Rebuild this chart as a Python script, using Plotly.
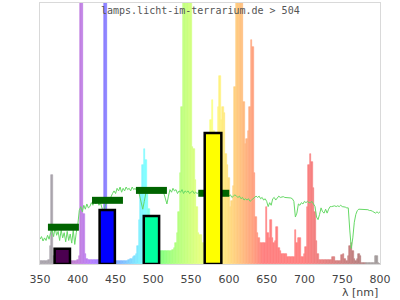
import plotly.graph_objects as go

# ---------------- data ----------------
WAVELENGTHS = list(range(350, 801, 2))

# lamp spectrum (% of plot height, >100 = clipped)
LAMP = [
    1, 1, 1, 1, 1, 1, 1.5, 7, 34, 3,                 # 350-368
    1, 1, 1, 1, 1, 1, 1, 1, 1, 1,                    # 370-388
    1, 1, 1, 1, 1, 1.5, 3, 110, 110, 19,             # 390-408
    4, 2, 1.5, 1.5, 1.5, 1.5, 1.5, 1.5, 1.5, 1.5,    # 410-428
    1.5, 1.5, 3, 110, 110, 5, 2, 1.5, 1, 1,          # 430-448
    1, 1, 1, 1, 1, 1, 1, 1, 1, 1.5,                  # 450-468
    2, 2, 2.5, 3, 4, 7, 17, 28, 38, 44,              # 470-488
    40, 28, 21, 15, 9, 6, 5, 5, 5, 5,                # 490-508
    5, 5, 5, 5, 5, 5, 5, 5, 5.5, 6,                  # 510-528
    8, 12, 20, 35, 60, 110, 110, 110, 110, 110,      # 530-548
    110, 45, 44, 32, 22, 12, 11, 11, 8, 5,           # 550-568
    20, 25, 35, 55, 63, 51, 30, 40, 60, 72,          # 570-588
    55, 60, 58, 42, 38, 33, 22, 24, 30, 68,          # 590-608
    110, 110, 110, 110, 110, 62, 46, 48, 51, 60,     # 610-628
    86, 83, 35, 18, 12, 10, 8, 8, 8, 8,              # 630-648
    22, 12, 10, 17, 10, 8, 9, 14, 6, 5,              # 650-668
    4, 4, 4, 4, 2.5, 2.5, 2.5, 2.5, 2.5, 13,         # 670-688
    8, 10, 10, 2.7, 2.7, 4, 6.5, 22, 38, 42,         # 690-708
    39, 29, 20, 9, 4, 1.5, 1.5, 1.5, 1.5, 1.5,       # 710-728
    1.5, 1.5, 1.5, 1.5, 2.8, 2.5, 1.2, 1.2, 1.2, 1.2,  # 730-748
    3.5, 4, 2, 1, 3, 7, 8, 5, 2, 1,                  # 750-768
    2, 4, 3, 0.5, 0.5, 0.5, 0.5, 0.5, 0.5, 0.5,      # 770-788
    0.5, 0.5, 3, 3, 0.5, 0,                          # 790-800
]

# reference (daylight) curve
SUN = [
    9.5, 10.5, 8.8, 10, 9, 11, 9.5, 12, 13, 10.5,
    14, 11, 12.5, 9, 13, 10, 12, 8.5, 12.5, 9,
    11.5, 8, 13, 7.5, 12, 15, 20.5, 22, 20, 22.5,
    21, 23, 21.5, 22, 23.5, 22.5, 24, 23, 24.5, 22.5,
    23.5, 21, 19.5, 22, 24, 25, 24.5, 26, 27, 28,
    27, 29, 28, 29.5, 27.5, 29, 28, 29.5, 28.5, 29,
    28, 29.5, 28.5, 29, 28, 28.5, 26, 23, 21, 24,
    27, 28, 29, 28, 29, 28.5, 29, 27.5, 28.5, 29,
    28, 29.5, 27, 25, 23, 26, 28.5, 27.5, 29, 28,
    28.5, 27, 28, 27.5, 28.5, 27, 28, 27.5, 28, 27,
    27.5, 28, 27, 27.5, 27, 27.5, 27, 26.5, 27, 26.5,
    26.5, 27, 26.5, 26.5, 27, 26.5, 26.5, 27, 26.5, 26.5,
    26.5, 27, 26, 27, 26.5, 26, 26.5, 25.5, 26, 26.5,
    26, 25.5, 26, 25, 25.5, 24.5, 25, 24.5, 25, 24,
    24.5, 25, 25.5, 26, 25.5, 26, 25, 25.5, 24.5, 25,
    24, 22, 23.5, 22.5, 25, 25.5, 24.5, 25.5, 26, 25.5,
    25.8, 25.8, 25.5, 25.5, 25.5, 25.3, 25.3, 25, 24, 18,
    19.5, 23, 22.5, 23.5, 23, 24, 23.5, 24, 23.5, 23.5,
    24, 23, 22, 18, 17, 19, 21.5, 20, 19.5, 21,
    19.5, 21, 22, 22, 22.3, 22.3, 22, 22.3, 22, 22.5,
    22, 22, 21.8, 21.5, 21.5, 13, 6, 10, 16, 19,
    20.5, 21, 21, 21, 21, 21, 20.8, 20.8, 20.5, 20.5,
    20.2, 19.8, 19.5, 20, 19.5, 20,
]

BAND_CENTERS = [379.5, 439, 497.5, 579]
BAND_WIDTHS = [20.3, 20.2, 20.3, 22]
BAND_VALUES = [5.8, 20.7, 18.4, 50.2]
BAND_COLORS = ["#4b0050", "#0000ff", "#00ffa0", "#ffff00"]

MARKER_CENTERS = [381, 439.3, 497.5, 580]
MARKER_VALUES = [14.1, 24.4, 28.2, 27.1]
MARKER_HALF = 20.5

TICKS = [350, 400, 450, 500, 550, 600, 650, 700, 750, 800]


# ---------------- colours ----------------
def wl_color(w):
    if w < 380:
        return "rgb(170,165,173)"
    if w > 781:
        return "rgb(163,155,155)"
    if w < 440:
        r, g, b = -(w - 440) / 60, 0.0, 1.0
    elif w < 490:
        r, g, b = 0.0, (w - 440) / 50, 1.0
    elif w < 510:
        r, g, b = 0.0, 1.0, -(w - 510) / 20
    elif w < 580:
        r, g, b = (w - 510) / 70, 1.0, 0.0
    elif w < 645:
        r, g, b = 1.0, -(w - 645) / 65, 0.0
    else:
        r, g, b = 1.0, 0.0, 0.0
    if w < 420:
        f = 0.3 + 0.7 * (w - 380) / 40
    elif w > 700:
        f = 0.3 + 0.7 * (780 - w) / 80
    else:
        f = 1.0
    out = []
    for c in (r, g, b):
        v = (c * f) ** 0.8 if c > 0 else 0.0
        out.append(int(round((255 + 255 * v) / 2)))
    return "rgb(%d,%d,%d)" % tuple(out)


colors = [wl_color(w) for w in WAVELENGTHS]

fig = go.Figure()

fig.add_trace(go.Bar(
    x=WAVELENGTHS, y=LAMP, width=2,
    marker=dict(color=colors, line=dict(color=colors, width=0.6)),
    hoverinfo="skip",
))

fig.add_trace(go.Scatter(
    x=WAVELENGTHS, y=SUN, mode="lines",
    line=dict(color="#66d966", width=1),
    hoverinfo="skip",
))

mx, my = [], []
for c, v in zip(MARKER_CENTERS, MARKER_VALUES):
    mx += [c - MARKER_HALF, c + MARKER_HALF, None]
    my += [v, v, None]
fig.add_trace(go.Scatter(
    x=mx, y=my, mode="lines",
    line=dict(color="#006400", width=7),
    hoverinfo="skip",
))

for c, w, v, col in zip(BAND_CENTERS, BAND_WIDTHS, BAND_VALUES, BAND_COLORS):
    x0, x1 = c - w / 2, c + w / 2
    fig.add_trace(go.Scatter(
        x=[x0, x0, x1, x1, x0], y=[0, v, v, 0, 0],
        mode="lines", fill="toself", fillcolor=col,
        line=dict(color="black", width=2.5),
        hoverinfo="skip",
    ))

fig.update_layout(
    width=400, height=300,
    margin=dict(l=40, r=20, t=3, b=36),
    plot_bgcolor="white", paper_bgcolor="white",
    showlegend=False, bargap=0,
    font=dict(family="DejaVu Sans", size=11, color="#444"),
    xaxis=dict(
        range=[350, 800], tickvals=TICKS, ticktext=[str(t) for t in TICKS],
        showgrid=False, zeroline=False, showline=True, mirror=True,
        linecolor="#d9d9d9", linewidth=1, ticks="", ticklabelstandoff=5,
        tickfont=dict(family="DejaVu Sans", size=11, color="#444"),
    ),
    yaxis=dict(
        range=[0, 100], showticklabels=False, showgrid=False, zeroline=False,
        showline=True, mirror=True, linecolor="#d9d9d9", linewidth=1, ticks="",
    ),
    annotations=[
        dict(text="lamps.licht-im-terrarium.de &gt; 504", xref="paper", yref="paper",
             x=0.4706, y=1, xanchor="center", yanchor="top", showarrow=False,
             font=dict(family="DejaVu Sans Mono", size=10, color="#555")),
        dict(text="λ [nm]", xref="paper", yref="paper", x=1, y=0,
             xanchor="right", yanchor="middle", yshift=-28, showarrow=False,
             font=dict(family="DejaVu Sans", size=11, color="#444")),
    ],
)

fig.write_html("out.html")
